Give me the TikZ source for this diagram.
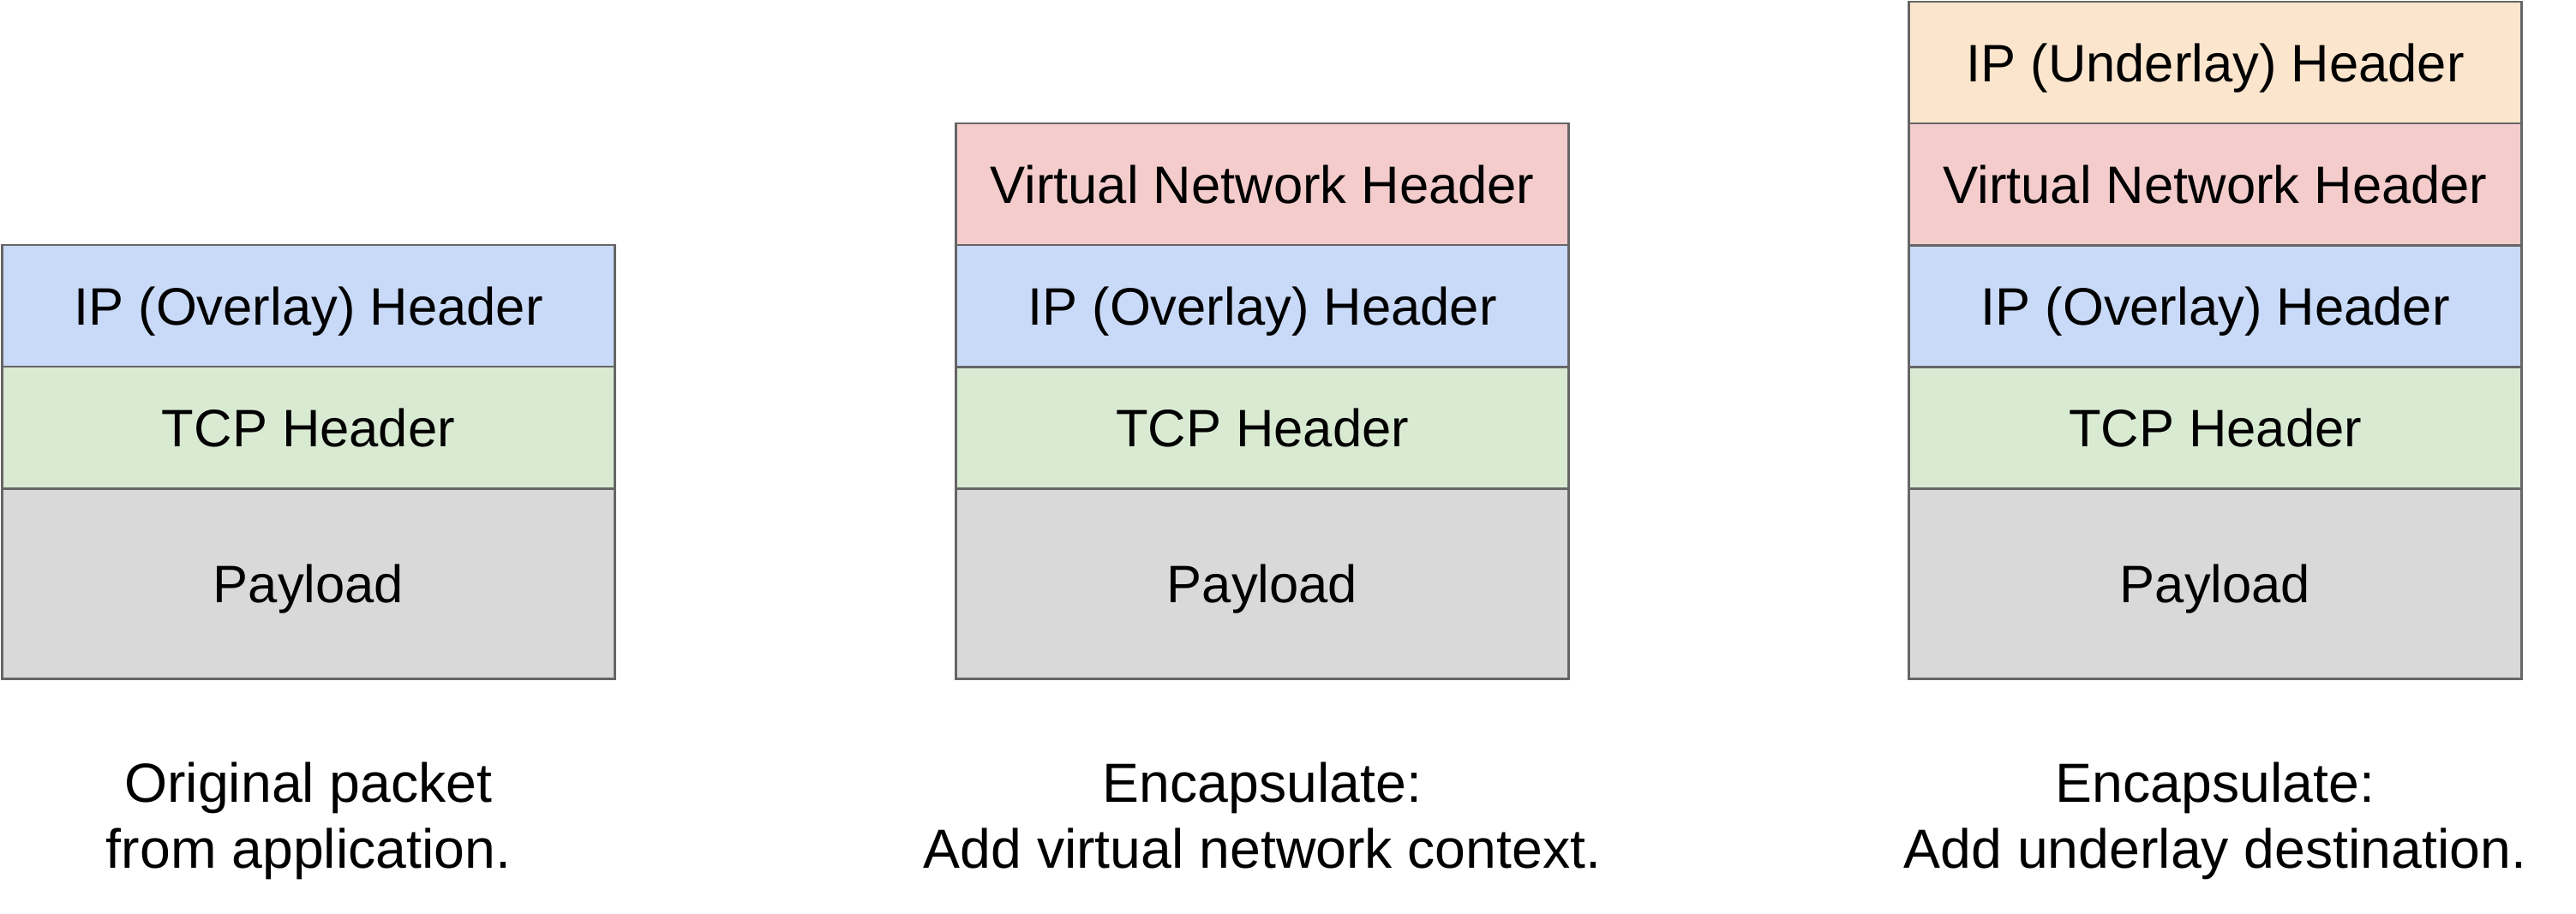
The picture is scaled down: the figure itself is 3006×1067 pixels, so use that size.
\documentclass[tikz,border=0pt]{standalone}
\usepackage{fontspec}
\setmainfont{Liberation Sans}
\usepackage{xcolor}
\usetikzlibrary{positioning}
\definecolor{underlayhdr}{HTML}{FCE5CD}
\definecolor{vnhdr}{HTML}{F4CCCC}
\definecolor{overlayhdr}{HTML}{C9DAF8}
\definecolor{tcphdr}{HTML}{D9EAD3}
\definecolor{payloadfill}{HTML}{D9D9D9}
\definecolor{edgegray}{HTML}{666666}
\tikzset{
  layer/.style={draw=edgegray, line width=0.8pt, minimum width=7.15cm, minimum height=1.42cm,
    inner sep=0pt, outer sep=0pt, text height=12.5pt, text depth=0pt,
    font=\fontsize{17.5}{21}\selectfont},
  payload/.style={layer, fill=payloadfill, minimum height=2.22cm},
  caption/.style={align=center, anchor=north, inner sep=0pt, font=\fontsize{18.3}{22}\selectfont}
}

\begin{document}
\begin{tikzpicture}[x=0.01cm, y=-0.01cm]
    \useasboundingbox (0,0) rectangle (3006,1067);
    % original packet
    \node[layer, fill=overlayhdr, anchor=north] (ipA) at (360,286) {IP (Overlay) Header};
    \node[layer, fill=tcphdr, below=0pt of ipA] (tcpA) {TCP Header};
    \node[payload, below=0pt of tcpA] (payA) {Payload};
    \node[caption] (capA) at (360,889) {Original packet\\from application.};
    % add virtual network header
    \node[layer, fill=vnhdr, anchor=north] (vnB) at (1473,144) {Virtual Network Header};
    \node[layer, fill=overlayhdr, below=0pt of vnB] (ipB) {IP (Overlay) Header};
    \node[layer, fill=tcphdr, below=0pt of ipB] (tcpB) {TCP Header};
    \node[payload, below=0pt of tcpB] (payB) {Payload};
    \node[caption] (capB) at (1473,889) {Encapsulate:\\Add virtual network context.};
    % add underlay header
    \node[layer, fill=underlayhdr, anchor=north] (ulC) at (2585,2) {IP (Underlay) Header};
    \node[layer, fill=vnhdr, below=0pt of ulC] (vnC) {Virtual Network Header};
    \node[layer, fill=overlayhdr, below=0pt of vnC] (ipC) {IP (Overlay) Header};
    \node[layer, fill=tcphdr, below=0pt of ipC] (tcpC) {TCP Header};
    \node[payload, below=0pt of tcpC] (payC) {Payload};
    \node[caption] (capC) at (2585,889) {Encapsulate:\\Add underlay destination.};
\end{tikzpicture}
\end{document}
